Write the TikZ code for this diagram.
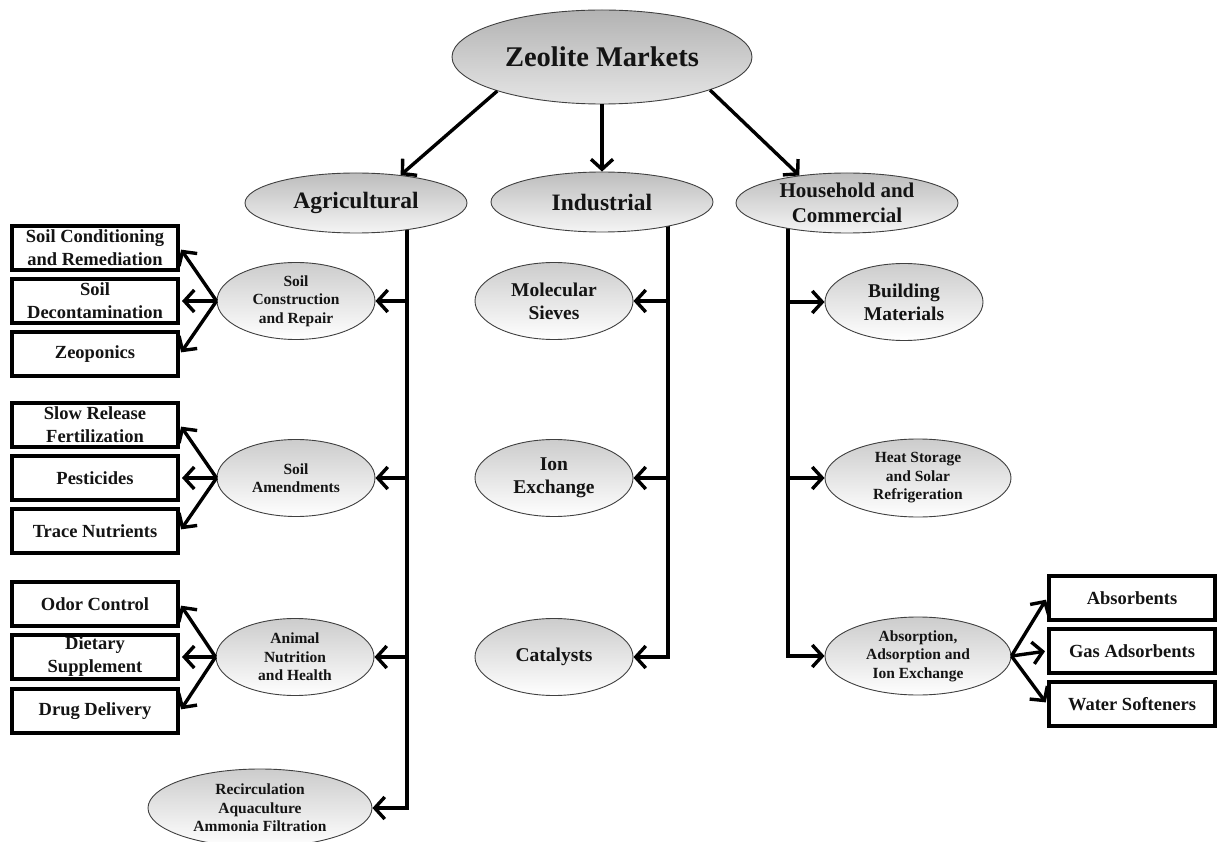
\documentclass[tikz,border=0pt]{standalone}
\usepackage{fontspec}
\setmainfont{Liberation Serif}
\usetikzlibrary{arrows.meta,backgrounds,shapes.geometric}
\begin{document}
\begin{tikzpicture}[x=1pt,y=-1pt,
  ellbase/.style={ellipse, draw=black!75, line width=0.9pt, inner sep=0pt, align=center, text=black!92},
  topell/.style={ellbase, minimum width=300pt, minimum height=94pt, top color=black!30, bottom color=black!10,
     font=\fontsize{28.5}{30}\selectfont\bfseries},
  lvone/.style={ellbase, minimum width=222pt, minimum height=60pt, top color=black!26, bottom color=black!4,
     font=\fontsize{23.5}{25}\selectfont\bfseries},
  subell/.style={ellbase, minimum width=158pt, minimum height=77pt, top color=black!20, bottom color=white,
     font=\fontsize{19.5}{23}\selectfont\bfseries},
  smallell/.style={subell, font=\fontsize{15.5}{18.5}\selectfont\bfseries},
  itembox/.style={rectangle, draw=black, line width=3.8pt, fill=white, minimum width=166.2pt, minimum height=44.5pt,
     inner sep=0pt, align=center, text=black!92, font=\fontsize{18.5}{23}\selectfont\bfseries},
  conn/.style={line width=3.4pt, black},
  arr/.style={conn, -{Straight Barb[length=10pt,width=22pt]}},
]
\useasboundingbox (0,0) rectangle (1219,842);

% main nodes
\node[topell] (zm) at (602,57) {Zeolite Markets};
\node[lvone] (ag) at (356,203) {Agricultural};
\node[lvone] (in) at (602,202) {Industrial};
\node[lvone, font=\fontsize{21}{25}\selectfont\bfseries] (hc) at (847,203) {Household and\\Commercial};

% agricultural
\node[smallell] (scr) at (296,301) {Soil\\Construction\\and Repair};
\node[smallell] (sam) at (296,478) {Soil\\Amendments};
\node[smallell] (anh) at (295,657) {Animal\\Nutrition\\and Health};
\node[smallell, minimum width=224pt, minimum height=78pt] (rec) at (260,808) {Recirculation\\Aquaculture\\Ammonia Filtration};

\node[itembox] (b1) at (95,248) {Soil Conditioning\\and Remediation};
\node[itembox] (b2) at (95,301) {Soil\\Decontamination};
\node[itembox] (b3) at (95,354) {Zeoponics};
\node[itembox] (b4) at (95,425) {Slow Release\\Fertilization};
\node[itembox] (b5) at (95,478) {Pesticides};
\node[itembox] (b6) at (95,531) {Trace Nutrients};
\node[itembox] (b7) at (95,604) {Odor Control};
\node[itembox] (b8) at (95,657) {Dietary\\Supplement};
\node[itembox] (b9) at (95,711) {Drug Delivery};

% industrial
\node[subell] (ms) at (554,301) {Molecular\\Sieves};
\node[subell] (ie) at (554,478) {Ion\\Exchange};
\node[subell] (ca) at (554,657) {Catalysts};

% household
\node[subell] (bm) at (904,302) {Building\\Materials};
\node[smallell, minimum width=186pt, minimum height=78pt] (hs) at (918,478) {Heat Storage\\and Solar\\Refrigeration};
\node[smallell, minimum width=186pt, minimum height=78pt] (aa) at (918,656) {Absorption,\\Adsorption and\\Ion Exchange};

\node[itembox] (r1) at (1132,598) {Absorbents};
\node[itembox] (r2) at (1132,651) {Gas Adsorbents};
\node[itembox] (r3) at (1132,704) {Water Softeners};

\coordinate (agx) at (407,0);
\coordinate (inx) at (668,0);
\coordinate (hcx) at (788,0);

% top arrows
\draw[arr] (zm.198) -- (ag.32);
\draw[arr] (zm.south) -- (in.north);
\draw[arr] (zm.343) -- (hc.150);

% trunks
\begin{scope}[on background layer]
  \draw[arr] (ag.center -| agx) -- (agx |- rec.east) -- (rec.east);
  \draw[arr] (in.center -| inx) -- (inx |- ca.east) -- (ca.east);
  \draw[arr] (hc.center -| hcx) -- (hcx |- aa.west) -- (aa.west);
\end{scope}

% branches
\draw[arr] (agx |- scr.east) -- (scr.east);
\draw[arr] (agx |- sam.east) -- (sam.east);
\draw[arr] (agx |- anh.east) -- (anh.east);
\draw[arr] (inx |- ms.east) -- (ms.east);
\draw[arr] (inx |- ie.east) -- (ie.east);
\draw[arr] (hcx |- bm.west) -- (bm.west);
\draw[arr] (hcx |- hs.west) -- (hs.west);

% fans
\foreach \s/\a/\b/\c in {scr/b1/b2/b3, sam/b4/b5/b6, anh/b7/b8/b9}{
  \draw[arr, shorten >=2pt] (\s.west) -- (\a.east);
  \draw[arr, shorten >=2pt] (\s.west) -- (\b.east);
  \draw[arr, shorten >=2pt] (\s.west) -- (\c.east);
}
\draw[arr, shorten >=2pt] (aa.east) -- (r1.west);
\draw[arr, shorten >=2pt] (aa.east) -- (r2.west);
\draw[arr, shorten >=2pt] (aa.east) -- (r3.west);
\end{tikzpicture}
\end{document}
